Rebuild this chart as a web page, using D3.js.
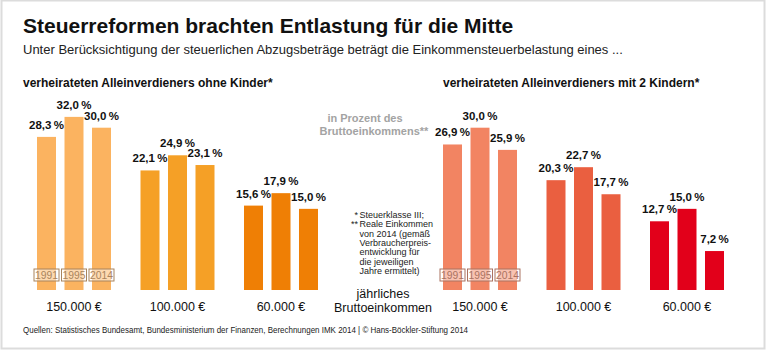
<html>
<head>
<meta charset="UTF-8">
<script src="https://d3js.org/d3.v7.min.js"></script>
<style>
  body { margin: 0; background: #fff; }
  text { font-family: "Liberation Sans", Arial, sans-serif; }
  .narrow { font-family: "Liberation Sans Narrow", "Liberation Sans", Arial, sans-serif; }
</style>
</head>
<body>
<svg id="chart" width="767" height="351"></svg>
<script>
// data
const groups = ['150.000 €', '100.000 €', '60.000 €'];
const years = ['1991', '1995', '2014'];
const ohneKinder = [[28.3, 32.0, 30.0], [22.1, 24.9, 23.1], [15.6, 17.9, 15.0]];
const mitKindern = [[26.9, 30.0, 25.9], [20.3, 22.7, 17.7], [12.7, 15.0, 7.2]];
const footnotes = [
  ['*', 'Steuerklasse III;'],
  ['**', 'Reale Einkommen'],
  ['', 'von 2014 (gemäß'],
  ['', 'Verbraucherpreis-'],
  ['', 'entwicklung für'],
  ['', 'die jeweiligen'],
  ['', 'Jahre ermittelt)']
];

const svg = d3.select('#chart');
const width = +svg.attr('width');
const height = +svg.attr('height');

svg.append('rect')
   .attr('x', 1.5).attr('y', 0.5)
   .attr('width', width - 4).attr('height', height - 3)
   .attr('fill', '#fff').attr('stroke', '#dcdcdc').attr('stroke-width', 2);

// headings
svg.append('text').attr('x', 23).attr('y', 33)
   .attr('font-size', 21).attr('font-weight', 'bold').attr('fill', '#111')
   .text('Steuerreformen brachten Entlastung für die Mitte');
svg.append('text').attr('x', 23).attr('y', 54)
   .attr('font-size', 13).attr('fill', '#222')
   .text('Unter Berücksichtigung der steuerlichen Abzugsbeträge beträgt die Einkommensteuerbelastung eines ...');

const baseline = 290;
const yScale = d3.scaleLinear().domain([0, 32]).range([baseline, baseline - 32 * 5.41]);
const inner = d3.scaleBand().domain(years).range([0, 74]).paddingInner(0.309);
const fmt = v => v.toFixed(1).replace('.', ',') + '\u2009%';

const panels = [
  {title: 'verheirateten Alleinverdieners ohne Kinder*', values: ohneKinder,
   range: [37, 318], colors: ['#fbb360', '#f5a026', '#ef7f05'], yearColor: '#a9845c'},
  {title: 'verheirateten Alleinverdieners mit 2 Kindern*', values: mitKindern,
   range: [443, 724], colors: ['#f28462', '#ea5f40', '#e2001a'], yearColor: '#aa7261'}
];

panels.forEach((p, pi) => {
  const xScale = d3.scaleBand().domain(groups).range(p.range).paddingInner(0.285);
  const g = svg.append('g').attr('class', 'panel');

  g.append('text').attr('x', pi === 0 ? 23 : p.range[0]).attr('y', 87)
   .attr('font-size', 12).attr('font-weight', 'bold').attr('fill', '#111')
   .text(p.title);

  const grp = g.selectAll('g.grp').data(groups).join('g')
     .attr('class', 'grp')
     .attr('transform', d => `translate(${xScale(d)},0)`);

  grp.selectAll('rect').data((d, i) => p.values[i].map((v, j) => ({v, year: years[j], gi: i})))
     .join('rect')
     .attr('x', d => inner(d.year))
     .attr('width', inner.bandwidth())
     .attr('y', d => yScale(d.v))
     .attr('height', d => baseline - yScale(d.v))
     .attr('fill', d => p.colors[d.gi]);

  grp.selectAll('text.val').data((d, i) => p.values[i].map((v, j) => ({v, year: years[j]})))
     .join('text')
     .attr('class', 'val')
     .attr('x', d => inner(d.year) + inner.bandwidth() / 2)
     .attr('y', d => yScale(d.v) - 8)
     .attr('text-anchor', 'middle')
     .attr('font-size', 11.5).attr('font-weight', 'bold').attr('fill', '#111')
     .text(d => fmt(d.v));

  grp.append('text')
     .attr('x', xScale.bandwidth() / 2).attr('y', 311)
     .attr('text-anchor', 'middle').attr('font-size', 12.5).attr('fill', '#111')
     .text(d => d);

  // year boxes in the first group
  const yb = g.append('g').attr('transform', `translate(${xScale(groups[0])},0)`);
  const boxes = yb.selectAll('g').data(years).join('g')
     .attr('transform', d => `translate(${inner(d) + inner.bandwidth() / 2},275)`);
  boxes.append('rect').attr('x', -12.5).attr('y', -6).attr('width', 25).attr('height', 12)
     .attr('fill', 'rgba(255,255,255,0.5)').attr('stroke', p.yearColor).attr('stroke-width', 1);
  boxes.append('text').attr('y', 4.2).attr('text-anchor', 'middle')
     .attr('font-size', 11).attr('fill', p.yearColor)
     .attr('textLength', 23).attr('lengthAdjust', 'spacingAndGlyphs')
     .text(d => d);
});

// middle annotations
const mid = svg.append('g').attr('font-weight', 'bold').attr('font-size', 11).attr('fill', '#a3a3a3');
mid.append('text').attr('x', 365).attr('y', 122).attr('text-anchor', 'middle').text('in Prozent des');
mid.append('text').attr('x', 374).attr('y', 135).attr('text-anchor', 'middle').text('Bruttoeinkommens**');

const fn = svg.append('g').attr('class', 'narrow').attr('font-size', 9).attr('fill', '#222');
fn.selectAll('text.star').data(footnotes).join('text').attr('class', 'star narrow')
  .attr('x', 358).attr('y', (d, i) => 218 + i * 9.35)
  .attr('text-anchor', 'end').text(d => d[0]);
fn.selectAll('text.note').data(footnotes).join('text').attr('class', 'note narrow')
  .attr('x', 359.5).attr('y', (d, i) => 218 + i * 9.35).text(d => d[1]);

const br = svg.append('g').attr('font-size', 12.5).attr('fill', '#111').attr('text-anchor', 'middle');
br.append('text').attr('x', 383).attr('y', 298).text('jährliches');
br.append('text').attr('x', 383).attr('y', 311.5).text('Bruttoeinkommen');

svg.append('text').attr('class', 'narrow').attr('x', 23).attr('y', 333)
   .attr('font-size', 9).attr('fill', '#222')
   .attr('textLength', 445).attr('lengthAdjust', 'spacingAndGlyphs')
   .text('Quellen: Statistisches Bundesamt, Bundesministerium der Finanzen, Berechnungen IMK 2014 | © Hans-Böckler-Stiftung 2014');
</script>
</body>
</html>
